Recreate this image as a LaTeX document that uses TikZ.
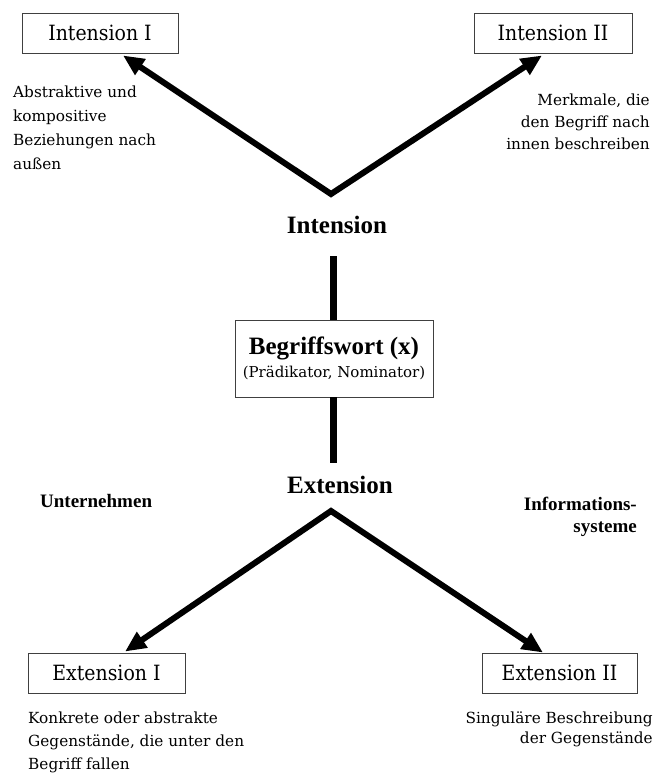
\documentclass[tikz,border=0pt]{standalone}
\usepackage{fontspec}
\setmainfont{Liberation Serif}
\newfontfamily\slab{DejaVu Serif}
\newfontfamily\slabc{DejaVu Serif Condensed}
\usetikzlibrary{arrows.meta}

\begin{document}
\begin{tikzpicture}[x=1pt,y=-1pt,
  termbox/.style={draw=black!75, line width=0.9pt, minimum width=156pt,
    minimum height=40pt, inner sep=0pt, font=\slabc\fontsize{21}{25}\selectfont},
  desc/.style={inner sep=0pt, font=\slab\fontsize{15.3}{24}\selectfont},
  head/.style={inner sep=0pt, font=\bfseries\fontsize{25}{29}\selectfont},
  side/.style={inner sep=0pt, font=\bfseries\fontsize{19}{22}\selectfont},
  fork/.style={line width=6pt, line join=miter,
    {Triangle[length=21pt,width=18pt]}-{Triangle[length=21pt,width=18pt]}},
  stem/.style={line width=7pt}
]
\useasboundingbox (0,0) rectangle (655,774);

% term boxes
\node[termbox] (int1) at (100,33) {Intension I};
\node[termbox, minimum width=158pt] (int2) at (553,33) {Intension II};
\node[termbox, minimum width=157pt] (ext1) at (106.5,673) {Extension I};
\node[termbox, minimum width=155pt] (ext2) at (559.5,673) {Extension II};

% central concept word
\node[draw=black!75, line width=0.9pt, minimum width=198pt, minimum height=77pt,
  inner sep=0pt, align=center, font=\slab\fontsize{15}{23}\selectfont]
  (bw) at (334,358.5)
  {{\rmfamily\bfseries\fontsize{25}{29}\selectfont Begriffswort (x)}\\(Prädikator, Nominator)};

% headings
\node[head, anchor=base] (inten) at (337,233) {Intension};
\node[head, anchor=base] (exten) at (340,493) {Extension};
\node[side, anchor=base west] (unt) at (40,507) {Unternehmen};
\node[side, anchor=north east, align=right] (info) at (637,497) {Informations-\\systeme};

% descriptions
\node[desc, anchor=north west, align=left] (d1) at (13,86)
  {Abstraktive und\\kompositive\\Beziehungen nach\\außen};
\node[desc, anchor=north east, align=right, font=\slab\fontsize{15.3}{22}\selectfont] (d2) at (650,94)
  {Merkmale, die\\den Begriff nach\\innen beschreiben};
\node[desc, anchor=north west, align=left, font=\slab\fontsize{15.3}{23}\selectfont] (d3) at (28,712)
  {Konkrete oder abstrakte\\Gegenstände, die unter den\\Begriff fallen};
\node[desc, anchor=north east, align=right, font=\slab\fontsize{15.3}{20}\selectfont] (d4) at (653,712)
  {Singuläre Beschreibung\\der Gegenstände};

% fork points and arrow tips
\coordinate (vU) at (331,194);
\coordinate (vL) at (331,511);
\coordinate (t1) at ([xshift=23pt,yshift=-2pt]int1.south);
\coordinate (t2) at ([xshift=-11pt,yshift=-2pt]int2.south);
\coordinate (t3) at ([xshift=18.5pt,yshift=1pt]ext1.north);
\coordinate (t4) at ([xshift=-16.5pt]ext2.north);

\draw[fork] (t1) -- (vU) -- (t2);
\draw[fork] (t3) -- (vL) -- (t4);

% stems to the concept word
\coordinate (s1) at (333,256);
\coordinate (s2) at (333,463);
\draw[stem] (s1) -- (s1 |- bw.north);
\draw[stem] (bw.south -| s2) -- (s2);
\end{tikzpicture}
\end{document}
